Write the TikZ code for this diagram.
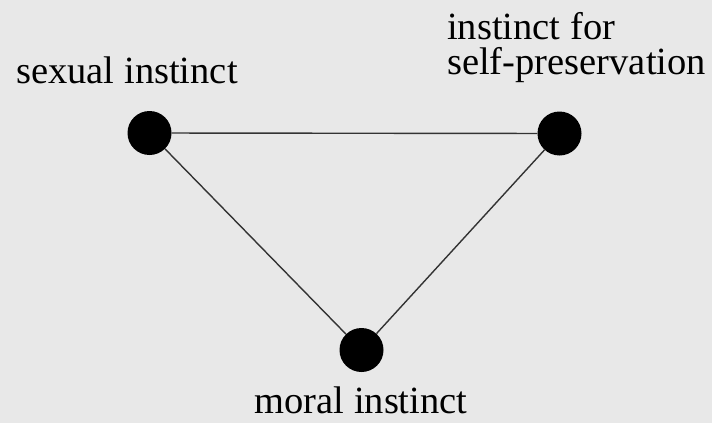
\documentclass[tikz,border=0pt]{standalone}
\usepackage{fontspec}
\setmainfont{Liberation Serif}
\definecolor{paper}{HTML}{E8E8E8}
\definecolor{wire}{HTML}{333333}

\begin{document}
\begin{tikzpicture}[x=1pt,y=-1pt,
    dot/.style={circle,fill=black,inner sep=0pt,minimum size=44pt},
    edge/.style={draw=wire,line width=1.4pt},
    lbl/.style={inner sep=0pt,font=\fontsize{38.5}{35}\selectfont}]
        \fill[paper] (0,0) rectangle (712,423);
        \useasboundingbox (0,0) rectangle (712,423);
        % the three instincts
        \node[dot] (sexual) at (149.5,133) {};
        \node[dot] (selfp) at (559.5,133.5) {};
        \node[dot] (moral) at (361.5,350) {};
        \draw[edge] (sexual) -- (selfp) -- (moral) -- (sexual);
        % labels, placed on their (last) baselines
        \node[lbl,anchor=base] (sexuallbl) at (127,83) {sexual instinct};
        \node[lbl,anchor=base west,align=left] (selfplbl) at (447,74) {instinct for\\self-preservation};
        \node[lbl,anchor=base] (morallbl) at (361,413) {moral instinct};
      \end{tikzpicture}
\end{document}
